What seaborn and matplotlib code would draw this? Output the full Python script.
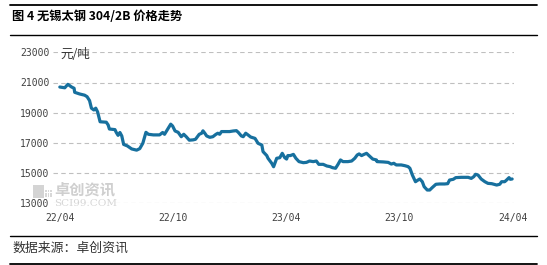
import numpy as np
import pandas as pd
import matplotlib
matplotlib.use("Agg")
import matplotlib.pyplot as plt
import matplotlib.dates as mdates
from matplotlib.lines import Line2D
import seaborn as sns

# ---- data ----
start_date = "2022-04-01"
day_offsets = [0, 8, 13, 19, 23, 24, 32, 40, 44, 48, 51, 55, 58, 61, 65, 75, 78, 80, 89, 91,
               94, 97, 100, 103, 109, 116, 124, 129, 134, 139, 143, 151, 161, 166, 169, 175,
               179, 182, 186, 191, 194, 196, 200, 204, 209, 215, 219, 222, 225, 229, 231, 234,
               237, 242, 247, 252, 255, 258, 261, 274, 280, 285, 288, 293, 296, 300, 304, 308,
               315, 320, 326, 328, 334, 336, 342, 345, 350, 355, 359, 363, 366, 368, 372, 377,
               381, 386, 393, 398, 403, 409, 414, 418, 425, 431, 436, 440, 445, 449, 453, 457,
               465, 471, 476, 480, 483, 487, 491, 495, 499, 505, 511, 512, 522, 530, 535, 539,
               543, 551, 557, 562, 565, 569, 574, 578, 581, 585, 588, 593, 597, 601, 607, 613,
               621, 626, 629, 635, 639, 648, 659, 664, 668, 671, 675, 680, 686, 691, 697, 705,
               710, 713, 718, 721, 725, 727, 730]
prices = [20700, 20650, 20880, 20700, 20620, 20350, 20240, 20160, 20060, 19800, 19300, 19180,
          19300, 19050, 18400, 18370, 18190, 17920, 17880, 17700, 17500, 17690, 17460, 16900,
          16800, 16600, 16520, 16620, 16980, 17700, 17570, 17530, 17530, 17690, 17570, 17980,
          18240, 18120, 17790, 17700, 17520, 17410, 17570, 17410, 17180, 17200, 17240, 17410,
          17570, 17640, 17800, 17640, 17460, 17370, 17410, 17570, 17640, 17570, 17750, 17750,
          17790, 17810, 17700, 17460, 17410, 17640, 17520, 17390, 17300, 16970, 16860, 16420,
          16160, 15980, 15650, 15420, 15980, 16020, 16310, 16020, 15930, 16160, 16160, 16240,
          15980, 15760, 15690, 15710, 15800, 15760, 15800, 15580, 15580, 15470, 15430, 15360,
          15320, 15580, 15870, 15760, 15760, 15800, 15980, 16200, 16270, 16160, 16240, 16310,
          16160, 15930, 15870, 15760, 15740, 15710, 15600, 15650, 15540, 15540, 15490, 15430,
          15320, 14870, 14430, 14540, 14610, 14430, 14100, 13880, 13880, 14040, 14260, 14280,
          14280, 14300, 14540, 14590, 14700, 14720, 14720, 14650, 14760, 14920, 14870, 14610,
          14430, 14320, 14300, 14210, 14260, 14430, 14430, 14540, 14700, 14590, 14610]
tick_dates = ["2022-04-01", "2022-10-01", "2023-04-01", "2023-10-01", "2024-04-01"]
tick_labels = ["22/04", "22/10", "23/04", "23/10", "24/04"]
y_ticks = [13000, 15000, 17000, 19000, 21000, 23000]

title = "图 4 无锡太钢 304/2B 价格走势"
unit = "元/吨"
source = "数据来源：卓创资讯"

dates = pd.Timestamp(start_date) + pd.to_timedelta(day_offsets, unit="D")
df = pd.DataFrame({"date": dates, "price": prices})

sns.set_theme(style="white")
plt.rcParams["font.family"] = ["Noto Sans CJK SC", "DejaVu Sans"]

W, H = 547, 265
fig = plt.figure(figsize=(W / 100, H / 100), dpi=100)

# watermark (drawn beneath the axes)
fig.patches.append(plt.Rectangle((33 / W, 1 - 198 / H), 11 / W, 13 / H, transform=fig.transFigure,
                                 facecolor="#D4D4D4", edgecolor="none", zorder=0))
for i in range(3):
    for j in range(3):
        fig.patches.append(plt.Rectangle(((45 + 2.5 * i) / W, 1 - (192 + 2.5 * j) / H), 1.6 / W, 1.6 / H,
                                         transform=fig.transFigure, facecolor="#D8D8D8",
                                         edgecolor="none", zorder=0))
fig.text(54 / W, 1 - 189.5 / H, "卓创资讯", fontsize=11, color="#CFCFCF", va="center", ha="left",
         fontweight="bold", zorder=0)
fig.text(54 / W, 1 - 203 / H, "SCI99.COM", fontsize=7.5, color="#D6D6D6", va="center", ha="left",
         family="DejaVu Serif", zorder=0)

ax = fig.add_axes([53 / W, 1 - 203.3 / H, (514 - 53) / W, (203.3 - 52.3) / H])
ax.set_zorder(2)
ax.patch.set_alpha(0)

sns.lineplot(data=df, x="date", y="price", ax=ax, color="#17709E", linewidth=2.3,
             solid_joinstyle="round", solid_capstyle="round")

ax.set_ylim(13000, 23000)
ax.set_xlim(pd.Timestamp(start_date) - pd.Timedelta(days=11),
            pd.Timestamp(start_date) + pd.Timedelta(days=733))
ax.set_yticks(y_ticks)
ax.set_yticklabels([str(v) for v in y_ticks], family="DejaVu Sans Mono", fontsize=7, color="#404040")
ax.set_xticks(pd.to_datetime(tick_dates))
ax.set_xticklabels(tick_labels, family="DejaVu Sans Mono", fontsize=7, color="#404040")
ax.tick_params(axis="both", length=0)
ax.tick_params(axis="y", pad=2.5)
ax.tick_params(axis="x", pad=7)
ax.set_xlabel("")
ax.set_ylabel("")
for s in ax.spines.values():
    s.set_visible(False)
ax.yaxis.grid(True, color="#BFBFBF", linestyle=(0, (4, 3)), linewidth=0.8)
ax.xaxis.grid(False)
ax.set_axisbelow(True)

# unit label
fig.text(60 / W, 1 - 54 / H, unit, fontsize=9, color="#333333", va="center", ha="left")

# title and source with rules
fig.text(12 / W, 1 - 17 / H, title, fontsize=8.8, fontweight="bold", color="black",
         va="center", ha="left")
fig.text(12 / W, 1 - 248 / H, source, fontsize=9.3, color="#333333", va="center", ha="left")
for yy, lw in [(5, 1.3), (35, 1.0), (235.5, 1.0), (264, 1.3)]:
    fig.add_artist(Line2D([10 / W, 537 / W], [1 - yy / H, 1 - yy / H], color="black",
                          linewidth=lw, transform=fig.transFigure))

fig.savefig("out.png", dpi=100)
